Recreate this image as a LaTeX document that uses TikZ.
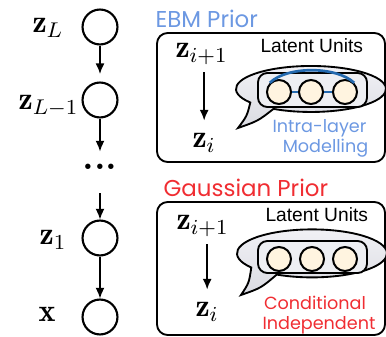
\documentclass[tikz,border=0pt]{standalone}
\usepackage{fontspec}
\newfontfamily\casual{Poppins}
\newfontfamily\arialf{Liberation Sans}
\usetikzlibrary{arrows.meta}
\definecolor{ebmblue}{RGB}{108,152,226}
\definecolor{gred}{RGB}{240,45,50}
\definecolor{linkblue}{RGB}{35,105,175}
\definecolor{peach}{RGB}{255,244,224}
\definecolor{bubtop}{RGB}{242,242,246}
\definecolor{bubbot}{RGB}{218,219,226}
\definecolor{capfill}{RGB}{238,239,243}
\begin{document}
\begin{tikzpicture}[x=0.375pt,y=-0.375pt,
  lat/.style={circle,draw,line width=0.8pt,minimum size=13.1pt,inner sep=0pt},
  lbl/.style={font=\fontsize{12}{14}\selectfont,inner sep=0pt},
  arr/.style={-{Latex[length=4pt,width=3.4pt]},line width=0.6pt},
  inarr/.style={arr,shorten <=2.5pt,shorten >=4.8pt},
  frame/.style={draw,rounded corners=4pt,line width=0.7pt},
  bubble/.style={draw,line width=0.7pt,top color=bubtop,bottom color=bubbot},
  capsule/.style={draw,rounded corners=3.5pt,line width=0.7pt,fill=capfill},
  unit/.style={circle,draw,fill=peach,line width=0.75pt,minimum size=9pt,inner sep=0pt},
  link/.style={draw=linkblue,line width=1pt},
  title/.style={font=\casual\fontsize{8.6}{10}\selectfont,inner sep=0pt,anchor=base west,text depth=0pt},
  note/.style={font=\casual\fontsize{6.6}{8}\selectfont,inner sep=0pt,anchor=base},
  units/.style={font=\arialf\fontsize{7.2}{8.5}\selectfont,inner sep=0pt,anchor=base west}]
\useasboundingbox (0,0) rectangle (386,337);

% ---------------- left chain ----------------
\node[lat] (zL)  at (100,27) {};
\node[lat] (zLm) at (100,100) {};
\node[inner sep=0pt,minimum height=11.25pt,font=\fontsize{14}{16}\selectfont] (dots) at (100,167) {\textbf{...}};
\node[lat] (z1)  at (100,238) {};
\node[lat] (xx)  at (100,317) {};

\node[lbl,anchor=base east] (lzL)  at (64,33)  {$\mathbf{z}_{L}$};
\node[lbl,anchor=base east] (lzLm) at (79,110) {$\mathbf{z}_{L-1}$};
\node[lbl,anchor=base east] (lz1)  at (67,245) {$\mathbf{z}_{1}$};
\node[lbl,anchor=base east] (lx)   at (56,322) {$\mathbf{x}$};

\draw[arr,shorten >=2.8pt] (zL) -- (zLm);
\draw[arr] (zLm) -- (dots);
\draw[arr,shorten <=4pt] (dots) -- (z1);
\draw[arr] (z1) -- (xx);

% ---------------- EBM prior ----------------
\node[title,text=ebmblue] (ebm) at (155,28) {EBM Prior};
\draw[frame] (157,33) rectangle (385,162);
\node[lbl,anchor=base west] (zipA) at (175,58) {$\mathbf{z}_{i+1}$};
\node[lbl,anchor=base west] (ziA)  at (192,148) {$\mathbf{z}_{i}$};
\draw[inarr] (ziA.north |- zipA.south) -- (ziA.north);
\node[units] (luA) at (260,53) {Latent Units};

\draw[bubble] (250.3,102.5) arc[start angle=144,end angle=480,x radius=75,y radius=23]
  .. controls (258,121) .. (238,128) .. controls (247,116) .. cycle;
\draw[capsule] (258,73) rectangle (367,107);
\node[unit] (uA1) at (279,92) {};
\node[unit] (uA2) at (311,92) {};
\node[unit] (uA3) at (345,92) {};
\draw[link] (uA1) -- (uA2);
\draw[link] (uA2) -- (uA3);
\draw[link] (uA1.135) .. controls (287,66) and (336,66) .. (uA3.45);
\node[note,text=ebmblue] (intra) at (319.5,133) {Intra-layer};
\node[note,text=ebmblue] (model) at (325.5,153) {Modelling};

% ---------------- Gaussian prior ----------------
\node[title,text=gred] (gauss) at (163,197) {Gaussian Prior};
\draw[frame] (157,202) rectangle (385,335);
\node[lbl,anchor=base west] (zipB) at (176,230) {$\mathbf{z}_{i+1}$};
\node[lbl,anchor=base west] (ziB)  at (195,317) {$\mathbf{z}_{i}$};
\draw[inarr] (ziB.north |- zipB.south) -- (ziB.north);
\node[units] (luB) at (265,222) {Latent Units};

\draw[bubble] (251.3,267.5) arc[start angle=144,end angle=478,x radius=75,y radius=24]
  .. controls (261,288) .. (241,295) .. controls (249,283) .. cycle;
\draw[capsule] (258,241) rectangle (367,273);
\node[unit] (uB1) at (279,259) {};
\node[unit] (uB2) at (312,259) {};
\node[unit] (uB3) at (345,259) {};
\node[note,text=gred] (cond) at (315,310) {Conditional};
\node[note,text=gred] (indep) at (319,330) {Independent};
\end{tikzpicture}
\end{document}
